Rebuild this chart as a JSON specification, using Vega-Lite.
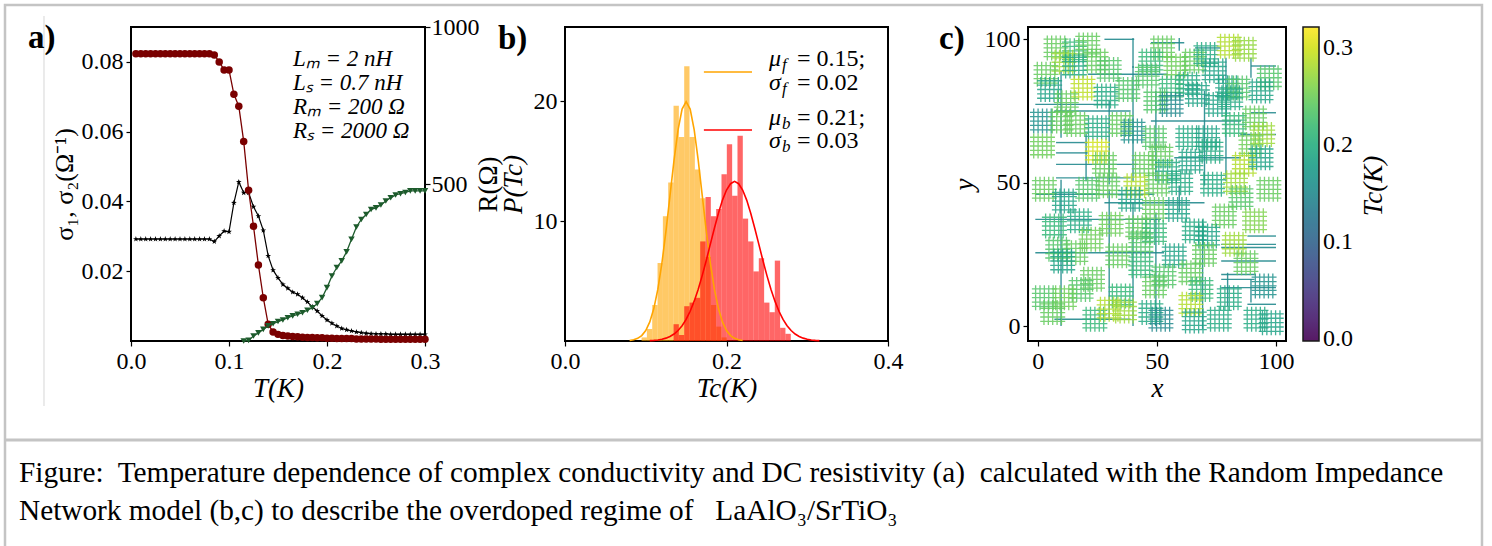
{
"$schema": "https://vega.github.io/schema/vega-lite/v6.json",
"padding": {"left": 2, "top": 2, "right": 0, "bottom": 0},
"background": "white",
"spacing": 140,
"bounds": "flush",
"resolve": {"scale": {"color": "independent"}, "legend": {"color": "independent"}},
"datasets": {
"cond": [
{"T":0.005,"s1":0.0823,"s2":0.0292},{"T":0.010,"s1":0.0823,"s2":0.0292},{"T":0.015,"s1":0.0823,"s2":0.0292},{"T":0.020,"s1":0.0823,"s2":0.0292},
{"T":0.025,"s1":0.0823,"s2":0.0292},{"T":0.030,"s1":0.0823,"s2":0.0292},{"T":0.035,"s1":0.0823,"s2":0.0292},{"T":0.040,"s1":0.0823,"s2":0.0292},
{"T":0.045,"s1":0.0823,"s2":0.0292},{"T":0.050,"s1":0.0823,"s2":0.0292},{"T":0.055,"s1":0.0823,"s2":0.0292},{"T":0.060,"s1":0.0823,"s2":0.0292},
{"T":0.065,"s1":0.0823,"s2":0.0292},{"T":0.070,"s1":0.0823,"s2":0.0292},{"T":0.075,"s1":0.0823,"s2":0.0292},{"T":0.080,"s1":0.0823,"s2":0.0292},
{"T":0.085,"s1":0.0820,"s2":0.0285},{"T":0.090,"s1":0.0800,"s2":0.0301},{"T":0.095,"s1":0.0777,"s2":0.0315},{"T":0.100,"s1":0.0777,"s2":0.0313},
{"T":0.105,"s1":0.0707,"s2":0.0396},{"T":0.110,"s1":0.0673,"s2":0.0456},{"T":0.115,"s1":0.0572,"s2":0.0425},{"T":0.120,"s1":0.0432,"s2":0.0425},
{"T":0.125,"s1":0.0329,"s2":0.0385},{"T":0.130,"s1":0.0218,"s2":0.0358},{"T":0.135,"s1":0.0124,"s2":0.0317},{"T":0.140,"s1":0.0048,"s2":0.0244},
{"T":0.145,"s1":0.0026,"s2":0.0203},{"T":0.150,"s1":0.0019,"s2":0.0181},{"T":0.155,"s1":0.0016,"s2":0.0162},{"T":0.160,"s1":0.0014,"s2":0.0151},
{"T":0.165,"s1":0.0013,"s2":0.0140},{"T":0.170,"s1":0.0012,"s2":0.0134},{"T":0.175,"s1":0.0011,"s2":0.0124},{"T":0.180,"s1":0.0010,"s2":0.0112},
{"T":0.185,"s1":0.0010,"s2":0.0098},{"T":0.190,"s1":0.0009,"s2":0.0086},{"T":0.195,"s1":0.0009,"s2":0.0072},{"T":0.200,"s1":0.0008,"s2":0.0060},
{"T":0.205,"s1":0.0008,"s2":0.0051},{"T":0.210,"s1":0.0007,"s2":0.0043},{"T":0.215,"s1":0.0007,"s2":0.0036},{"T":0.220,"s1":0.0007,"s2":0.0032},
{"T":0.225,"s1":0.0007,"s2":0.0029},{"T":0.230,"s1":0.0006,"s2":0.0026},{"T":0.235,"s1":0.0006,"s2":0.0024},{"T":0.240,"s1":0.0006,"s2":0.0022},
{"T":0.245,"s1":0.0006,"s2":0.0021},{"T":0.250,"s1":0.0006,"s2":0.0020},{"T":0.255,"s1":0.0005,"s2":0.0020},{"T":0.260,"s1":0.0005,"s2":0.0020},
{"T":0.265,"s1":0.0005,"s2":0.0019},{"T":0.270,"s1":0.0005,"s2":0.0019},{"T":0.275,"s1":0.0005,"s2":0.0019},{"T":0.280,"s1":0.0005,"s2":0.0019},
{"T":0.285,"s1":0.0005,"s2":0.0019},{"T":0.290,"s1":0.0005,"s2":0.0019},{"T":0.295,"s1":0.0005,"s2":0.0019},{"T":0.300,"s1":0.0005,"s2":0.0019}
],
"res": [
{"T":0.115,"R":0},{"T":0.120,"R":2},{"T":0.125,"R":16},{"T":0.130,"R":26},{"T":0.135,"R":37},{"T":0.140,"R":48},{"T":0.145,"R":55},{"T":0.150,"R":62},
{"T":0.155,"R":67},{"T":0.160,"R":74},{"T":0.165,"R":80},{"T":0.170,"R":85},{"T":0.175,"R":90},{"T":0.180,"R":98},{"T":0.185,"R":106},{"T":0.190,"R":119},
{"T":0.195,"R":138},{"T":0.200,"R":170},{"T":0.205,"R":207},{"T":0.210,"R":234},{"T":0.215,"R":255},{"T":0.220,"R":284},{"T":0.225,"R":324},{"T":0.230,"R":363},
{"T":0.235,"R":387},{"T":0.240,"R":403},{"T":0.245,"R":419},{"T":0.250,"R":424},{"T":0.255,"R":433},{"T":0.260,"R":446},{"T":0.265,"R":456},{"T":0.270,"R":465},
{"T":0.275,"R":469},{"T":0.280,"R":473},{"T":0.285,"R":478},{"T":0.290,"R":478},{"T":0.295,"R":478},{"T":0.300,"R":478}
],
"hf": [
{"lo":0.0948,"hi":0.1014,"n":0.3},{"lo":0.1014,"hi":0.1080,"n":1.0},{"lo":0.1080,"hi":0.1146,"n":3.0},{"lo":0.1146,"hi":0.1212,"n":6.5},
{"lo":0.1212,"hi":0.1278,"n":10.4},{"lo":0.1278,"hi":0.1344,"n":13.2},{"lo":0.1344,"hi":0.1410,"n":19.6},{"lo":0.1410,"hi":0.1476,"n":17.0},
{"lo":0.1476,"hi":0.1542,"n":22.9},{"lo":0.1542,"hi":0.1608,"n":17.0},{"lo":0.1608,"hi":0.1674,"n":14.3},{"lo":0.1674,"hi":0.1740,"n":11.9},
{"lo":0.1740,"hi":0.1806,"n":7.0},{"lo":0.1806,"hi":0.1872,"n":3.0},{"lo":0.1872,"hi":0.1938,"n":1.2},{"lo":0.1938,"hi":0.2004,"n":0.3}
],
"hb": [
{"lo":0.1344,"hi":0.1410,"n":1.4},{"lo":0.1410,"hi":0.1476,"n":0.5},{"lo":0.1476,"hi":0.1542,"n":2.9},{"lo":0.1542,"hi":0.1608,"n":3.2},
{"lo":0.1608,"hi":0.1674,"n":3.6},{"lo":0.1674,"hi":0.1740,"n":8.3},{"lo":0.1740,"hi":0.1806,"n":12.0},{"lo":0.1806,"hi":0.1872,"n":10.4},
{"lo":0.1872,"hi":0.1938,"n":11.0},{"lo":0.1938,"hi":0.2004,"n":13.9},{"lo":0.2004,"hi":0.2070,"n":16.4},{"lo":0.2070,"hi":0.2136,"n":12.1},
{"lo":0.2136,"hi":0.2202,"n":17.1},{"lo":0.2202,"hi":0.2268,"n":10.2},{"lo":0.2268,"hi":0.2334,"n":8.3},{"lo":0.2334,"hi":0.2400,"n":5.8},
{"lo":0.2400,"hi":0.2466,"n":6.9},{"lo":0.2466,"hi":0.2532,"n":3.2},{"lo":0.2532,"hi":0.2598,"n":2.4},{"lo":0.2598,"hi":0.2664,"n":6.7},
{"lo":0.2664,"hi":0.2730,"n":1.1},{"lo":0.2730,"hi":0.2796,"n":0.6}
],
"gf": [
{"t":0.080,"v":0.044},{"t":0.085,"v":0.102},{"t":0.090,"v":0.222},{"t":0.095,"v":0.454},{"t":0.100,"v":0.876},{"t":0.105,"v":1.59},
{"t":0.110,"v":2.70},{"t":0.115,"v":4.32},{"t":0.120,"v":6.48},{"t":0.125,"v":9.13},{"t":0.130,"v":12.10},{"t":0.135,"v":15.06},
{"t":0.140,"v":17.60},{"t":0.145,"v":19.33},{"t":0.150,"v":19.95},{"t":0.155,"v":19.33},{"t":0.160,"v":17.60},{"t":0.165,"v":15.06},
{"t":0.170,"v":12.10},{"t":0.175,"v":9.13},{"t":0.180,"v":6.48},{"t":0.185,"v":4.32},{"t":0.190,"v":2.70},{"t":0.195,"v":1.59},
{"t":0.200,"v":0.876},{"t":0.205,"v":0.454},{"t":0.210,"v":0.222},{"t":0.215,"v":0.102},{"t":0.220,"v":0.044}
],
"gb": [
{"t":0.105,"v":0.029},{"t":0.110,"v":0.051},{"t":0.115,"v":0.088},{"t":0.120,"v":0.148},{"t":0.125,"v":0.240},{"t":0.130,"v":0.380},
{"t":0.135,"v":0.584},{"t":0.140,"v":0.874},{"t":0.145,"v":1.27},{"t":0.150,"v":1.80},{"t":0.155,"v":2.48},{"t":0.160,"v":3.32},
{"t":0.165,"v":4.32},{"t":0.170,"v":5.47},{"t":0.175,"v":6.73},{"t":0.180,"v":8.07},{"t":0.185,"v":9.40},{"t":0.190,"v":10.65},
{"t":0.195,"v":11.74},{"t":0.200,"v":12.58},{"t":0.205,"v":13.11},{"t":0.210,"v":13.30},{"t":0.215,"v":13.11},{"t":0.220,"v":12.58},
{"t":0.225,"v":11.74},{"t":0.230,"v":10.65},{"t":0.235,"v":9.40},{"t":0.240,"v":8.07},{"t":0.245,"v":6.73},{"t":0.250,"v":5.47},
{"t":0.255,"v":4.32},{"t":0.260,"v":3.32},{"t":0.265,"v":2.48},{"t":0.270,"v":1.80},{"t":0.275,"v":1.27},{"t":0.280,"v":0.874},
{"t":0.285,"v":0.584},{"t":0.290,"v":0.380},{"t":0.295,"v":0.240},{"t":0.300,"v":0.148},{"t":0.305,"v":0.088},{"t":0.310,"v":0.051},{"t":0.315,"v":0.029}
],
"clusters": [
{"x":7.7,"y":97,"tc":0.245},{"x":15.4,"y":96,"tc":0.215},{"x":21,"y":98,"tc":0.245},{"x":24.5,"y":92.4,"tc":0.245},{"x":30,"y":89.5,"tc":0.235},
{"x":11,"y":92,"tc":0.275},{"x":15.4,"y":90.7,"tc":0.195},{"x":3.5,"y":87.8,"tc":0.245},{"x":5,"y":82.5,"tc":0.185},{"x":19,"y":83,"tc":0.29},
{"x":12,"y":77.9,"tc":0.245},{"x":28.7,"y":80.2,"tc":0.195},{"x":37.8,"y":82.5,"tc":0.235},{"x":52.4,"y":97,"tc":0.245},{"x":47.5,"y":92.4,"tc":0.215},
{"x":58,"y":90.7,"tc":0.25},{"x":46,"y":87.2,"tc":0.235},{"x":65.7,"y":92.4,"tc":0.245},{"x":70.6,"y":94.7,"tc":0.195},{"x":80.4,"y":97.6,"tc":0.285},
{"x":86.7,"y":96.5,"tc":0.27},{"x":74,"y":89,"tc":0.185},{"x":63,"y":84.3,"tc":0.195},{"x":56,"y":83,"tc":0.215},{"x":67,"y":80.8,"tc":0.185},
{"x":79.7,"y":83.1,"tc":0.185},{"x":84,"y":83,"tc":0.235},{"x":97.2,"y":86.6,"tc":0.235},{"x":93.7,"y":82,"tc":0.185},{"x":49.6,"y":78.5,"tc":0.235},
{"x":56,"y":77.3,"tc":0.15},{"x":75.5,"y":77.3,"tc":0.185},{"x":81,"y":79.6,"tc":0.195},{"x":2,"y":71.5,"tc":0.16},{"x":9.8,"y":71.5,"tc":0.245},
{"x":16,"y":70.3,"tc":0.245},{"x":25,"y":69.2,"tc":0.195},{"x":35,"y":70.3,"tc":0.245},{"x":40,"y":68,"tc":0.16},{"x":25,"y":61,"tc":0.3},
{"x":2,"y":62.8,"tc":0.25},{"x":49,"y":65.7,"tc":0.235},{"x":51.7,"y":59.3,"tc":0.245},{"x":63,"y":65.7,"tc":0.195},{"x":71.3,"y":65.7,"tc":0.185},
{"x":82.5,"y":70.3,"tc":0.215},{"x":91,"y":72.6,"tc":0.245},{"x":94.4,"y":66.8,"tc":0.275},{"x":89.5,"y":63.3,"tc":0.25},{"x":86.7,"y":56.4,"tc":0.285},
{"x":93.7,"y":58.7,"tc":0.185},{"x":44.7,"y":56.4,"tc":0.245},{"x":54.5,"y":54,"tc":0.195},{"x":64.3,"y":57.5,"tc":0.185},{"x":72.7,"y":61,"tc":0.195},
{"x":28,"y":56.4,"tc":0.245},{"x":2.8,"y":47.7,"tc":0.245},{"x":11.2,"y":43.6,"tc":0.185},{"x":21,"y":47.7,"tc":0.235},{"x":29.4,"y":48.9,"tc":0.245},
{"x":41.2,"y":48.9,"tc":0.285},{"x":50.3,"y":49.5,"tc":0.245},{"x":60,"y":50,"tc":0.195},{"x":73.4,"y":49.5,"tc":0.195},{"x":83,"y":50,"tc":0.275},
{"x":85.3,"y":44.8,"tc":0.235},{"x":97,"y":47.7,"tc":0.245},{"x":39,"y":44.2,"tc":0.185},{"x":49,"y":40.7,"tc":0.245},{"x":58.7,"y":40.7,"tc":0.185},
{"x":78.3,"y":38.4,"tc":0.245},{"x":91,"y":36.7,"tc":0.26},{"x":7,"y":34.9,"tc":0.215},{"x":17.5,"y":36.7,"tc":0.195},{"x":30.8,"y":35.5,"tc":0.25},
{"x":42,"y":34.3,"tc":0.245},{"x":49,"y":32.6,"tc":0.215},{"x":65.7,"y":33.2,"tc":0.195},{"x":71.3,"y":31.4,"tc":0.185},{"x":8.4,"y":26.8,"tc":0.235},
{"x":16,"y":25.6,"tc":0.245},{"x":22.4,"y":30.3,"tc":0.25},{"x":10.5,"y":22.7,"tc":0.185},{"x":33.6,"y":24.5,"tc":0.245},{"x":43.3,"y":29.1,"tc":0.235},
{"x":57.3,"y":24.5,"tc":0.185},{"x":70,"y":25,"tc":0.245},{"x":82.5,"y":28.5,"tc":0.275},{"x":87.4,"y":22.1,"tc":0.245},{"x":95,"y":14,"tc":0.16},
{"x":23,"y":16.3,"tc":0.245},{"x":18.2,"y":12.8,"tc":0.235},{"x":35,"y":10.5,"tc":0.215},{"x":49,"y":14,"tc":0.245},{"x":64.3,"y":18.6,"tc":0.245},
{"x":68.5,"y":12.8,"tc":0.215},{"x":80.4,"y":9.9,"tc":0.195},{"x":2.8,"y":9.9,"tc":0.235},{"x":11.2,"y":9.9,"tc":0.25},{"x":6.3,"y":4.7,"tc":0.245},
{"x":24,"y":2.4,"tc":0.215},{"x":30,"y":5.9,"tc":0.285},{"x":36.4,"y":5.3,"tc":0.275},{"x":47.5,"y":4.7,"tc":0.195},{"x":51.7,"y":2.4,"tc":0.15},
{"x":64.3,"y":7.6,"tc":0.285},{"x":65.7,"y":1.8,"tc":0.185},{"x":76.2,"y":2.4,"tc":0.195},{"x":91.6,"y":2.4,"tc":0.195},{"x":98,"y":1.2,"tc":0.185},
{"x":43.3,"y":21,"tc":0.215},{"x":53,"y":17.5,"tc":0.235}
],
"bonds": [
{"x1":28,"x2":40.5,"y1":100,"y2":100,"tc":0.15},{"x1":47.5,"x2":61.5,"y1":98.8,"y2":98.8,"tc":0.15},{"x1":66,"x2":77,"y1":97,"y2":97,"tc":0.15},
{"x1":89.5,"x2":100,"y1":90.7,"y2":90.7,"tc":0.15},{"x1":21,"x2":54.5,"y1":87.8,"y2":87.8,"tc":0.15},{"x1":-1,"x2":30.8,"y1":77.3,"y2":77.3,"tc":0.15},
{"x1":7,"x2":39,"y1":75,"y2":75,"tc":0.15},{"x1":47.5,"x2":85.3,"y1":71.5,"y2":71.5,"tc":0.15},{"x1":89.5,"x2":100,"y1":74.4,"y2":74.4,"tc":0.15},
{"x1":85,"x2":100,"y1":66.8,"y2":66.8,"tc":0.15},{"x1":7.7,"x2":21,"y1":64,"y2":64,"tc":0.15},{"x1":7.7,"x2":21,"y1":60.4,"y2":60.4,"tc":0.15},
{"x1":57.3,"x2":85.3,"y1":58.7,"y2":58.7,"tc":0.15},{"x1":7.7,"x2":42,"y1":56.4,"y2":56.4,"tc":0.15},{"x1":7.7,"x2":39,"y1":51.7,"y2":51.7,"tc":0.15},
{"x1":-1,"x2":49,"y1":46,"y2":46,"tc":0.15},{"x1":28,"x2":70,"y1":43,"y2":43,"tc":0.15},{"x1":-1,"x2":51.7,"y1":37.2,"y2":37.2,"tc":0.15},
{"x1":88,"x2":100,"y1":31.4,"y2":31.4,"tc":0.15},{"x1":77,"x2":100,"y1":28.5,"y2":28.5,"tc":0.15},{"x1":77,"x2":100,"y1":27.4,"y2":27.4,"tc":0.15},
{"x1":-1,"x2":53,"y1":25.6,"y2":25.6,"tc":0.15},{"x1":77,"x2":100,"y1":22.7,"y2":22.7,"tc":0.15},{"x1":77,"x2":91,"y1":18,"y2":18,"tc":0.15},
{"x1":77,"x2":91,"y1":16.3,"y2":16.3,"tc":0.15},{"x1":77,"x2":100,"y1":13.4,"y2":13.4,"tc":0.15},{"x1":88,"x2":100,"y1":7.6,"y2":7.6,"tc":0.15},
{"x1":7,"x2":39,"y1":2.4,"y2":2.4,"tc":0.15},
{"x1":40,"x2":40,"y1":90,"y2":100.5,"tc":0.15},{"x1":9.8,"x2":9.8,"y1":65.7,"y2":89,"tc":0.15},{"x1":20.3,"x2":20.3,"y1":50.5,"y2":67,"tc":0.15},
{"x1":30,"x2":30,"y1":49.4,"y2":78.5,"tc":0.15},{"x1":40,"x2":40,"y1":50.5,"y2":90.7,"tc":0.15},{"x1":49.6,"x2":49.6,"y1":50.5,"y2":82,"tc":0.15},
{"x1":59.4,"x2":59.4,"y1":96,"y2":100.5,"tc":0.15},{"x1":70,"x2":70,"y1":49,"y2":82,"tc":0.15},{"x1":79,"x2":79,"y1":50.5,"y2":93.6,"tc":0.15},
{"x1":89.5,"x2":89.5,"y1":86.6,"y2":93.6,"tc":0.15},{"x1":9.8,"x2":9.8,"y1":0,"y2":51,"tc":0.15},{"x1":30,"x2":30,"y1":2.4,"y2":47.7,"tc":0.15},
{"x1":40,"x2":40,"y1":0,"y2":43,"tc":0.15},{"x1":49.6,"x2":49.6,"y1":0,"y2":39.6,"tc":0.15},{"x1":59.4,"x2":59.4,"y1":39.6,"y2":49,"tc":0.15},
{"x1":69.2,"x2":69.2,"y1":-1,"y2":37.2,"tc":0.15},{"x1":79.7,"x2":79.7,"y1":7,"y2":18.6,"tc":0.15},{"x1":89.5,"x2":89.5,"y1":8.2,"y2":16.3,"tc":0.15}
]
},
"hconcat": [
{
"width": 294, "height": 314,
"layer": [
{"layer": [
{"data": {"values": [{}]},
 "mark": {"type": "rect", "filled": false, "stroke": "#c4c4c4", "strokeWidth": 2.5, "clip": false},
 "encoding": {"x": {"datum": -0.128571, "type": "quantitative", "scale": {"domain": [0, 0.3], "nice": false}},
  "x2": {"datum": 1.378571},
  "y": {"datum": 0.096305, "type": "quantitative", "scale": {"domain": [0, 0.09], "nice": false}},
  "y2": {"datum": -0.063057}}},
{"data": {"values": [{}]},
 "mark": {"type": "rule", "stroke": "#c4c4c4", "strokeWidth": 3, "clip": false},
 "encoding": {"x": {"datum": -0.128571, "type": "quantitative"}, "x2": {"datum": 1.378571},
  "y": {"datum": -0.028376, "type": "quantitative"}}},
{"data": {"values": [{}]},
 "mark": {"type": "rule", "stroke": "#d6d6d6", "strokeWidth": 1, "clip": false},
 "encoding": {"x": {"datum": -0.088776, "type": "quantitative"},
  "y": {"datum": 0.093152, "type": "quantitative"}, "y2": {"datum": -0.01863}}},
{"data": {"values": [{}]},
 "mark": {"type": "text", "text": "Figure:\u00a0 Temperature dependence of complex conductivity and DC resistivity (a)\u00a0 calculated with the Random Impedance", "align": "left", "baseline": "middle", "fontSize": 29.3, "font": "Liberation Serif", "color": "black", "clip": false},
 "encoding": {"x": {"datum": -0.114286, "type": "quantitative"}, "y": {"datum": -0.037834, "type": "quantitative"}}},
{"data": {"values": [{}]},
 "mark": {"type": "text", "text": "Network model (b,c) to describe the overdoped regime of\u00a0\u00a0 LaAlO₃/SrTiO₃", "align": "left", "baseline": "middle", "fontSize": 29.3, "font": "Liberation Serif", "color": "black", "clip": false},
 "encoding": {"x": {"datum": -0.114286, "type": "quantitative"}, "y": {"datum": -0.048726, "type": "quantitative"}}},
{"data": {"values": [{}]},
 "mark": {"type": "text", "text": "a)", "align": "left", "baseline": "middle", "fontSize": 33, "fontWeight": "bold", "font": "Liberation Serif", "color": "black", "clip": false},
 "encoding": {"x": {"datum": -0.105102, "type": "quantitative"}, "y": {"datum": 0.086847, "type": "quantitative"}}},
{"data": {"values": [{}]},
 "mark": {"type": "text", "text": "Tc(K)", "align": "center", "baseline": "middle", "fontSize": 27, "fontStyle": "italic", "angle": 270, "font": "Liberation Serif", "color": "black", "clip": false},
 "encoding": {"x": {"datum": 1.268367, "type": "quantitative"}, "y": {"datum": 0.044426, "type": "quantitative"}}},
{"data": {"values": [{}]},
 "mark": {"type": "text", "text": ["Lₘ = 2 nH", "Lₛ = 0.7 nH", "Rₘ = 200 Ω", "Rₛ = 2000 Ω"], "lineHeight": 24, "align": "left", "baseline": "alphabetic", "fontSize": 23, "fontStyle": "italic", "font": "Liberation Serif", "color": "black"},
 "encoding": {"x": {"datum": 0.165306, "type": "quantitative"}, "y": {"datum": 0.078821, "type": "quantitative"}}},
{"data": {"name": "cond"},
 "mark": {"type": "line", "color": "black", "strokeWidth": 1.2},
 "encoding": {
  "x": {"field": "T", "type": "quantitative", "title": "T(K)", "scale": {"domain": [0, 0.3], "nice": false},
        "axis": {"values": [0, 0.1, 0.2, 0.3], "format": ".1f", "titleFontStyle": "italic", "titleFontSize": 27, "titlePadding": 2}},
  "y": {"field": "s2", "type": "quantitative", "title": "σ₁, σ₂(Ω⁻¹)", "scale": {"domain": [0, 0.09], "nice": false},
        "axis": {"values": [0.02, 0.04, 0.06, 0.08], "format": ".2f", "titlePadding": 4}}}},
{"data": {"name": "cond"},
 "mark": {"type": "point", "shape": "M0,-1L0.235,-0.324L0.951,-0.309L0.38,0.124L0.588,0.809L0,0.4L-0.588,0.809L-0.38,0.124L-0.951,-0.309L-0.235,-0.324Z", "filled": true, "color": "black", "size": 36, "opacity": 1},
 "encoding": {"x": {"field": "T", "type": "quantitative", "title": "T(K)"}, "y": {"field": "s2", "type": "quantitative", "title": "σ₁, σ₂(Ω⁻¹)"}}},
{"data": {"name": "cond"},
 "mark": {"type": "line", "color": "#7a0000", "strokeWidth": 1.3},
 "encoding": {"x": {"field": "T", "type": "quantitative", "title": "T(K)"}, "y": {"field": "s1", "type": "quantitative", "title": "σ₁, σ₂(Ω⁻¹)"}}},
{"data": {"name": "cond"},
 "mark": {"type": "point", "shape": "circle", "filled": true, "color": "#7a0000", "size": 56, "opacity": 1},
 "encoding": {"x": {"field": "T", "type": "quantitative", "title": "T(K)"}, "y": {"field": "s1", "type": "quantitative", "title": "σ₁, σ₂(Ω⁻¹)"}}}
]},
{"layer": [
{"data": {"name": "res"},
 "mark": {"type": "line", "color": "#1d5b2c", "strokeWidth": 1.3},
 "encoding": {"x": {"field": "T", "type": "quantitative", "title": "T(K)"},
  "y": {"field": "R", "type": "quantitative", "title": "R(Ω)", "scale": {"domain": [0, 1000], "nice": false},
        "axis": {"orient": "right", "values": [500, 1000], "format": "d", "labelPadding": 1, "titleAngle": 270, "titleBaseline": "top", "titlePadding": -4, "titleFontSize": 27}}}},
{"data": {"name": "res"},
 "mark": {"type": "point", "shape": "triangle-down", "filled": true, "color": "#1d5b2c", "size": 42, "opacity": 1},
 "encoding": {"x": {"field": "T", "type": "quantitative", "title": "T(K)"}, "y": {"field": "R", "type": "quantitative", "title": "R(Ω)"}}}
]}
],
"resolve": {"scale": {"y": "independent"}, "axis": {"y": "independent"}}
},
{
"width": 323, "height": 314,
"layer": [
{"data": {"name": "hf"},
 "mark": {"type": "rect", "color": "#ffa500", "opacity": 0.6},
 "encoding": {
  "x": {"field": "lo", "type": "quantitative", "title": "Tc(K)", "scale": {"domain": [0, 0.4], "nice": false},
        "axis": {"values": [0, 0.2, 0.4], "format": ".1f", "titleFontStyle": "italic", "titleFontSize": 27, "titlePadding": 2}},
  "x2": {"field": "hi"},
  "y": {"field": "n", "type": "quantitative", "title": "P(Tc)", "scale": {"domain": [0, 26.17], "nice": false},
        "axis": {"values": [10, 20], "titleFontStyle": "italic", "titleFontSize": 27, "titlePadding": 6}},
  "y2": {"datum": 0}}},
{"data": {"name": "hb"},
 "mark": {"type": "rect", "color": "#ff0000", "opacity": 0.6},
 "encoding": {"x": {"field": "lo", "type": "quantitative", "title": "Tc(K)"}, "x2": {"field": "hi"},
  "y": {"field": "n", "type": "quantitative", "title": "P(Tc)"}, "y2": {"datum": 0}}},
{"data": {"name": "gf"},
 "mark": {"type": "line", "color": "#ffa500", "strokeWidth": 1.6},
 "encoding": {"x": {"field": "t", "type": "quantitative", "title": "Tc(K)"}, "y": {"field": "v", "type": "quantitative", "title": "P(Tc)"}}},
{"data": {"name": "gb"},
 "mark": {"type": "line", "color": "#ff0000", "strokeWidth": 1.6},
 "encoding": {"x": {"field": "t", "type": "quantitative", "title": "Tc(K)"}, "y": {"field": "v", "type": "quantitative", "title": "P(Tc)"}}},
{"data": {"values": [{}]},
 "mark": {"type": "rule", "color": "#ffa500", "strokeWidth": 1.6},
 "encoding": {"x": {"datum": 0.172, "type": "quantitative"}, "x2": {"datum": 0.2316}, "y": {"datum": 22.42, "type": "quantitative"}}},
{"data": {"values": [{}]},
 "mark": {"type": "rule", "color": "#ff0000", "strokeWidth": 1.6},
 "encoding": {"x": {"datum": 0.172, "type": "quantitative"}, "x2": {"datum": 0.2316}, "y": {"datum": 17.58, "type": "quantitative"}}},
{"data": {"values": [{}]}, "mark": {"type": "text", "text": "μ", "align": "left", "baseline": "middle", "fontSize": 24, "fontStyle": "italic"},
 "encoding": {"x": {"datum": 0.2526, "type": "quantitative"}, "y": {"datum": 23.5, "type": "quantitative"}}},
{"data": {"values": [{}]}, "mark": {"type": "text", "text": "f", "align": "left", "baseline": "middle", "fontSize": 17, "fontStyle": "italic", "dx": 13, "dy": 6},
 "encoding": {"x": {"datum": 0.2526, "type": "quantitative"}, "y": {"datum": 23.5, "type": "quantitative"}}},
{"data": {"values": [{}]}, "mark": {"type": "text", "text": "= 0.15;", "align": "left", "baseline": "middle", "fontSize": 24, "dx": 28},
 "encoding": {"x": {"datum": 0.2526, "type": "quantitative"}, "y": {"datum": 23.5, "type": "quantitative"}}},
{"data": {"values": [{}]}, "mark": {"type": "text", "text": "σ", "align": "left", "baseline": "middle", "fontSize": 24, "fontStyle": "italic"},
 "encoding": {"x": {"datum": 0.2526, "type": "quantitative"}, "y": {"datum": 21.5, "type": "quantitative"}}},
{"data": {"values": [{}]}, "mark": {"type": "text", "text": "f", "align": "left", "baseline": "middle", "fontSize": 17, "fontStyle": "italic", "dx": 13, "dy": 6},
 "encoding": {"x": {"datum": 0.2526, "type": "quantitative"}, "y": {"datum": 21.5, "type": "quantitative"}}},
{"data": {"values": [{}]}, "mark": {"type": "text", "text": "= 0.02", "align": "left", "baseline": "middle", "fontSize": 24, "dx": 28},
 "encoding": {"x": {"datum": 0.2526, "type": "quantitative"}, "y": {"datum": 21.5, "type": "quantitative"}}},
{"data": {"values": [{}]}, "mark": {"type": "text", "text": "μ", "align": "left", "baseline": "middle", "fontSize": 24, "fontStyle": "italic"},
 "encoding": {"x": {"datum": 0.2526, "type": "quantitative"}, "y": {"datum": 18.58, "type": "quantitative"}}},
{"data": {"values": [{}]}, "mark": {"type": "text", "text": "b", "align": "left", "baseline": "middle", "fontSize": 17, "fontStyle": "italic", "dx": 13, "dy": 6},
 "encoding": {"x": {"datum": 0.2526, "type": "quantitative"}, "y": {"datum": 18.58, "type": "quantitative"}}},
{"data": {"values": [{}]}, "mark": {"type": "text", "text": "= 0.21;", "align": "left", "baseline": "middle", "fontSize": 24, "dx": 28},
 "encoding": {"x": {"datum": 0.2526, "type": "quantitative"}, "y": {"datum": 18.58, "type": "quantitative"}}},
{"data": {"values": [{}]}, "mark": {"type": "text", "text": "σ", "align": "left", "baseline": "middle", "fontSize": 24, "fontStyle": "italic"},
 "encoding": {"x": {"datum": 0.2526, "type": "quantitative"}, "y": {"datum": 16.67, "type": "quantitative"}}},
{"data": {"values": [{}]}, "mark": {"type": "text", "text": "b", "align": "left", "baseline": "middle", "fontSize": 17, "fontStyle": "italic", "dx": 13, "dy": 6},
 "encoding": {"x": {"datum": 0.2526, "type": "quantitative"}, "y": {"datum": 16.67, "type": "quantitative"}}},
{"data": {"values": [{}]}, "mark": {"type": "text", "text": "= 0.03", "align": "left", "baseline": "middle", "fontSize": 24, "dx": 28},
 "encoding": {"x": {"datum": 0.2526, "type": "quantitative"}, "y": {"datum": 16.67, "type": "quantitative"}}},
{"data": {"values": [{}]},
 "mark": {"type": "text", "text": "b)", "align": "left", "baseline": "middle", "fontSize": 33, "fontWeight": "bold", "clip": false},
 "encoding": {"x": {"datum": -0.083, "type": "quantitative"}, "y": {"datum": 25.17, "type": "quantitative"}}}
]
},
{
"width": 258, "height": 314,
"layer": [
{"data": {"name": "bonds"},
 "mark": {"type": "rule", "strokeWidth": 1.4, "opacity": 0.9},
 "encoding": {
  "x": {"field": "x1", "type": "quantitative", "title": "x", "scale": {"domain": [-4.07, 104.2], "nice": false, "zero": false},
        "axis": {"values": [0, 50, 100], "titleFontStyle": "italic", "titleFontSize": 27, "titlePadding": 2}},
  "x2": {"field": "x2"},
  "y": {"field": "y1", "type": "quantitative", "title": "y", "scale": {"domain": [-5.2, 104.3], "nice": false, "zero": false},
        "axis": {"values": [0, 50, 100], "titleFontStyle": "italic", "titleFontSize": 27, "titlePadding": 6}},
  "y2": {"field": "y2"},
  "color": {"field": "tc", "type": "quantitative", "title": null,
            "scale": {"scheme": "viridis", "domain": [-0.002, 0.322], "zero": false, "nice": false},
            "legend": {"title": null, "values": [0, 0.1, 0.2, 0.3], "format": ".1f", "gradientLength": 314, "gradientThickness": 16,
                       "offset": 17, "padding": 0, "labelOffset": 4, "labelFontSize": 24, "labelFont": "Liberation Serif", "labelColor": "black",
                       "gradientStrokeColor": "black", "gradientStrokeWidth": 1.5, "direction": "vertical", "orient": "right"}}}},
{"data": {"name": "clusters"},
 "mark": {"type": "point", "shape": "M-0.7,-1V1M-0.35,-1V1M0,-1V1M0.35,-1V1M0.7,-1V1M-1,-0.7H1M-1,-0.35H1M-1,0H1M-1,0.35H1M-1,0.7H1", "size": 625, "filled": false, "strokeWidth": 1.3, "opacity": 0.85},
 "encoding": {"x": {"field": "x", "type": "quantitative", "title": "x"}, "y": {"field": "y", "type": "quantitative", "title": "y"},
  "color": {"field": "tc", "type": "quantitative", "title": null}}},
{"data": {"values": [{}]},
 "mark": {"type": "text", "text": "c)", "align": "left", "baseline": "middle", "fontSize": 33, "fontWeight": "bold", "clip": false},
 "encoding": {"x": {"datum": -41.4, "type": "quantitative"}, "y": {"datum": 100.1, "type": "quantitative"}}}
]
}
],
"config": {
 "view": {"stroke": "black", "strokeWidth": 2},
 "font": "Liberation Serif",
 "axis": {"grid": false, "domain": false, "ticks": true, "tickColor": "black", "tickSize": 5, "tickWidth": 1.2, "labelFlush": false,
          "labelFont": "Liberation Serif", "labelFontSize": 24, "labelColor": "black", "labelPadding": 3,
          "titleFont": "Liberation Serif", "titleFontSize": 26, "titleFontWeight": "normal", "titleColor": "black"},
 "text": {"font": "Liberation Serif", "color": "black"}
}
}
